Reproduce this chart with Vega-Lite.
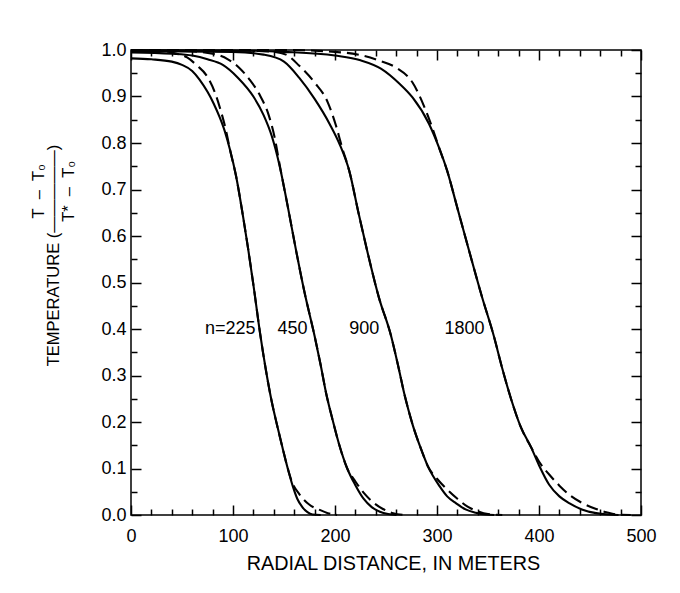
{
  "$schema": "https://vega.github.io/schema/vega-lite/v6.json",
  "width": 510,
  "height": 465,
  "autosize": {"type": "none"},
  "padding": {"left": 131, "top": 50, "right": 39, "bottom": 78},
  "background": "white",
  "config": {
    "font": "Liberation Sans",
    "view": {"stroke": "black", "strokeWidth": 1.5},
    "axis": {
      "grid": false,
      "domain": false,
      "ticks": true,
      "tickColor": "black",
      "tickWidth": 1.5,
      "tickOpacity": 1,
      "labelColor": "black",
      "titleColor": "black",
      "labelFlush": false,
      "labelOverlap": false
    }
  },
  "datasets": {
    "curves": [
      {"n": "225", "style": "solid", "x": 0, "y": 0.982},
      {"n": "225", "style": "solid", "x": 20, "y": 0.98},
      {"n": "225", "style": "solid", "x": 40, "y": 0.975},
      {"n": "225", "style": "solid", "x": 50, "y": 0.968},
      {"n": "225", "style": "solid", "x": 60, "y": 0.955},
      {"n": "225", "style": "solid", "x": 67, "y": 0.937},
      {"n": "225", "style": "solid", "x": 75, "y": 0.91},
      {"n": "225", "style": "solid", "x": 81, "y": 0.885},
      {"n": "225", "style": "solid", "x": 87, "y": 0.855},
      {"n": "225", "style": "solid", "x": 92, "y": 0.825},
      {"n": "225", "style": "solid", "x": 97, "y": 0.786},
      {"n": "225", "style": "solid", "x": 103, "y": 0.729},
      {"n": "225", "style": "solid", "x": 110, "y": 0.64},
      {"n": "225", "style": "solid", "x": 115, "y": 0.57},
      {"n": "225", "style": "solid", "x": 120, "y": 0.495},
      {"n": "225", "style": "solid", "x": 126.6, "y": 0.39},
      {"n": "225", "style": "solid", "x": 132, "y": 0.315},
      {"n": "225", "style": "solid", "x": 137.4, "y": 0.25},
      {"n": "225", "style": "solid", "x": 143, "y": 0.195},
      {"n": "225", "style": "solid", "x": 148.5, "y": 0.145},
      {"n": "225", "style": "solid", "x": 153.7, "y": 0.1},
      {"n": "225", "style": "solid", "x": 158.6, "y": 0.062},
      {"n": "225", "style": "solid", "x": 163, "y": 0.035},
      {"n": "225", "style": "solid", "x": 168, "y": 0.017},
      {"n": "225", "style": "solid", "x": 173, "y": 0.006},
      {"n": "225", "style": "solid", "x": 178, "y": 0.001},
      {"n": "225", "style": "solid", "x": 186, "y": 0.0},

      {"n": "225", "style": "dashed", "x": 0, "y": 1.0},
      {"n": "225", "style": "dashed", "x": 30, "y": 0.998},
      {"n": "225", "style": "dashed", "x": 45, "y": 0.992},
      {"n": "225", "style": "dashed", "x": 55, "y": 0.984},
      {"n": "225", "style": "dashed", "x": 64, "y": 0.968},
      {"n": "225", "style": "dashed", "x": 75, "y": 0.942},
      {"n": "225", "style": "dashed", "x": 82, "y": 0.91},
      {"n": "225", "style": "dashed", "x": 87, "y": 0.877},
      {"n": "225", "style": "dashed", "x": 93, "y": 0.828},
      {"n": "225", "style": "dashed", "x": 97, "y": 0.786},
      {"n": "225", "style": "dashed", "x": 103, "y": 0.729},
      {"n": "225", "style": "dashed", "x": 110, "y": 0.64},
      {"n": "225", "style": "dashed", "x": 115, "y": 0.57},
      {"n": "225", "style": "dashed", "x": 120, "y": 0.495},
      {"n": "225", "style": "dashed", "x": 126.6, "y": 0.39},
      {"n": "225", "style": "dashed", "x": 132, "y": 0.315},
      {"n": "225", "style": "dashed", "x": 137.4, "y": 0.25},
      {"n": "225", "style": "dashed", "x": 143, "y": 0.195},
      {"n": "225", "style": "dashed", "x": 148.5, "y": 0.145},
      {"n": "225", "style": "dashed", "x": 153.7, "y": 0.1},
      {"n": "225", "style": "dashed", "x": 158, "y": 0.07},
      {"n": "225", "style": "dashed", "x": 165, "y": 0.045},
      {"n": "225", "style": "dashed", "x": 175, "y": 0.022},
      {"n": "225", "style": "dashed", "x": 185, "y": 0.011},
      {"n": "225", "style": "dashed", "x": 193, "y": 0.004},
      {"n": "225", "style": "dashed", "x": 202, "y": 0.0},

      {"n": "450", "style": "solid", "x": 0, "y": 0.995},
      {"n": "450", "style": "solid", "x": 40, "y": 0.992},
      {"n": "450", "style": "solid", "x": 60, "y": 0.988},
      {"n": "450", "style": "solid", "x": 75, "y": 0.98},
      {"n": "450", "style": "solid", "x": 90, "y": 0.968},
      {"n": "450", "style": "solid", "x": 105, "y": 0.94},
      {"n": "450", "style": "solid", "x": 120, "y": 0.9},
      {"n": "450", "style": "solid", "x": 130, "y": 0.86},
      {"n": "450", "style": "solid", "x": 138, "y": 0.815},
      {"n": "450", "style": "solid", "x": 146, "y": 0.748},
      {"n": "450", "style": "solid", "x": 154, "y": 0.66},
      {"n": "450", "style": "solid", "x": 162, "y": 0.567},
      {"n": "450", "style": "solid", "x": 170, "y": 0.48},
      {"n": "450", "style": "solid", "x": 180, "y": 0.385},
      {"n": "450", "style": "solid", "x": 186, "y": 0.322},
      {"n": "450", "style": "solid", "x": 191.3, "y": 0.262},
      {"n": "450", "style": "solid", "x": 197.6, "y": 0.205},
      {"n": "450", "style": "solid", "x": 204, "y": 0.152},
      {"n": "450", "style": "solid", "x": 212, "y": 0.1},
      {"n": "450", "style": "solid", "x": 220, "y": 0.064},
      {"n": "450", "style": "solid", "x": 228, "y": 0.035},
      {"n": "450", "style": "solid", "x": 236, "y": 0.017},
      {"n": "450", "style": "solid", "x": 244, "y": 0.007},
      {"n": "450", "style": "solid", "x": 252, "y": 0.002},
      {"n": "450", "style": "solid", "x": 260, "y": 0.0},

      {"n": "450", "style": "dashed", "x": 0, "y": 1.0},
      {"n": "450", "style": "dashed", "x": 50, "y": 0.998},
      {"n": "450", "style": "dashed", "x": 80, "y": 0.992},
      {"n": "450", "style": "dashed", "x": 95, "y": 0.98},
      {"n": "450", "style": "dashed", "x": 106, "y": 0.962},
      {"n": "450", "style": "dashed", "x": 116, "y": 0.937},
      {"n": "450", "style": "dashed", "x": 127, "y": 0.9},
      {"n": "450", "style": "dashed", "x": 135, "y": 0.86},
      {"n": "450", "style": "dashed", "x": 141, "y": 0.81},
      {"n": "450", "style": "dashed", "x": 146, "y": 0.75},
      {"n": "450", "style": "dashed", "x": 154, "y": 0.66},
      {"n": "450", "style": "dashed", "x": 162, "y": 0.567},
      {"n": "450", "style": "dashed", "x": 170, "y": 0.48},
      {"n": "450", "style": "dashed", "x": 180, "y": 0.385},
      {"n": "450", "style": "dashed", "x": 186, "y": 0.322},
      {"n": "450", "style": "dashed", "x": 191.3, "y": 0.262},
      {"n": "450", "style": "dashed", "x": 197.6, "y": 0.205},
      {"n": "450", "style": "dashed", "x": 204, "y": 0.152},
      {"n": "450", "style": "dashed", "x": 212, "y": 0.1},
      {"n": "450", "style": "dashed", "x": 220, "y": 0.072},
      {"n": "450", "style": "dashed", "x": 228, "y": 0.048},
      {"n": "450", "style": "dashed", "x": 237, "y": 0.028},
      {"n": "450", "style": "dashed", "x": 247, "y": 0.013},
      {"n": "450", "style": "dashed", "x": 257, "y": 0.004},
      {"n": "450", "style": "dashed", "x": 268, "y": 0.0},

      {"n": "900", "style": "solid", "x": 0, "y": 0.998},
      {"n": "900", "style": "solid", "x": 100, "y": 0.996},
      {"n": "900", "style": "solid", "x": 130, "y": 0.99},
      {"n": "900", "style": "solid", "x": 150, "y": 0.975},
      {"n": "900", "style": "solid", "x": 165, "y": 0.94},
      {"n": "900", "style": "solid", "x": 180, "y": 0.895},
      {"n": "900", "style": "solid", "x": 195, "y": 0.84},
      {"n": "900", "style": "solid", "x": 205, "y": 0.795},
      {"n": "900", "style": "solid", "x": 214, "y": 0.74},
      {"n": "900", "style": "solid", "x": 223, "y": 0.65},
      {"n": "900", "style": "solid", "x": 232, "y": 0.564},
      {"n": "900", "style": "solid", "x": 243, "y": 0.468},
      {"n": "900", "style": "solid", "x": 255, "y": 0.385},
      {"n": "900", "style": "solid", "x": 262, "y": 0.32},
      {"n": "900", "style": "solid", "x": 268, "y": 0.26},
      {"n": "900", "style": "solid", "x": 276, "y": 0.195},
      {"n": "900", "style": "solid", "x": 284.5, "y": 0.141},
      {"n": "900", "style": "solid", "x": 291, "y": 0.105},
      {"n": "900", "style": "solid", "x": 302.5, "y": 0.062},
      {"n": "900", "style": "solid", "x": 310, "y": 0.04},
      {"n": "900", "style": "solid", "x": 318.8, "y": 0.025},
      {"n": "900", "style": "solid", "x": 328, "y": 0.012},
      {"n": "900", "style": "solid", "x": 338, "y": 0.005},
      {"n": "900", "style": "solid", "x": 348, "y": 0.001},
      {"n": "900", "style": "solid", "x": 356, "y": 0.0},

      {"n": "900", "style": "dashed", "x": 0, "y": 1.0},
      {"n": "900", "style": "dashed", "x": 100, "y": 0.999},
      {"n": "900", "style": "dashed", "x": 140, "y": 0.996},
      {"n": "900", "style": "dashed", "x": 152, "y": 0.99},
      {"n": "900", "style": "dashed", "x": 165, "y": 0.966},
      {"n": "900", "style": "dashed", "x": 180, "y": 0.93},
      {"n": "900", "style": "dashed", "x": 193, "y": 0.887},
      {"n": "900", "style": "dashed", "x": 201, "y": 0.837},
      {"n": "900", "style": "dashed", "x": 207, "y": 0.79},
      {"n": "900", "style": "dashed", "x": 214, "y": 0.74},
      {"n": "900", "style": "dashed", "x": 223, "y": 0.65},
      {"n": "900", "style": "dashed", "x": 232, "y": 0.564},
      {"n": "900", "style": "dashed", "x": 243, "y": 0.468},
      {"n": "900", "style": "dashed", "x": 255, "y": 0.385},
      {"n": "900", "style": "dashed", "x": 262, "y": 0.32},
      {"n": "900", "style": "dashed", "x": 268, "y": 0.26},
      {"n": "900", "style": "dashed", "x": 276, "y": 0.195},
      {"n": "900", "style": "dashed", "x": 284.5, "y": 0.141},
      {"n": "900", "style": "dashed", "x": 291, "y": 0.105},
      {"n": "900", "style": "dashed", "x": 300, "y": 0.078},
      {"n": "900", "style": "dashed", "x": 310, "y": 0.055},
      {"n": "900", "style": "dashed", "x": 320, "y": 0.035},
      {"n": "900", "style": "dashed", "x": 330, "y": 0.018},
      {"n": "900", "style": "dashed", "x": 340, "y": 0.008},
      {"n": "900", "style": "dashed", "x": 350, "y": 0.002},
      {"n": "900", "style": "dashed", "x": 364, "y": 0.0},

      {"n": "1800", "style": "solid", "x": 0, "y": 1.0},
      {"n": "1800", "style": "solid", "x": 100, "y": 0.999},
      {"n": "1800", "style": "solid", "x": 150, "y": 0.996},
      {"n": "1800", "style": "solid", "x": 200, "y": 0.988},
      {"n": "1800", "style": "solid", "x": 225, "y": 0.978},
      {"n": "1800", "style": "solid", "x": 245, "y": 0.96},
      {"n": "1800", "style": "solid", "x": 263, "y": 0.928},
      {"n": "1800", "style": "solid", "x": 276, "y": 0.898},
      {"n": "1800", "style": "solid", "x": 292, "y": 0.842},
      {"n": "1800", "style": "solid", "x": 302, "y": 0.79},
      {"n": "1800", "style": "solid", "x": 310, "y": 0.74},
      {"n": "1800", "style": "solid", "x": 320, "y": 0.66},
      {"n": "1800", "style": "solid", "x": 332, "y": 0.564},
      {"n": "1800", "style": "solid", "x": 344, "y": 0.47},
      {"n": "1800", "style": "solid", "x": 355.7, "y": 0.385},
      {"n": "1800", "style": "solid", "x": 364, "y": 0.315},
      {"n": "1800", "style": "solid", "x": 372.7, "y": 0.249},
      {"n": "1800", "style": "solid", "x": 382, "y": 0.19},
      {"n": "1800", "style": "solid", "x": 392.4, "y": 0.145},
      {"n": "1800", "style": "solid", "x": 400, "y": 0.107},
      {"n": "1800", "style": "solid", "x": 410, "y": 0.065},
      {"n": "1800", "style": "solid", "x": 420, "y": 0.04},
      {"n": "1800", "style": "solid", "x": 430, "y": 0.025},
      {"n": "1800", "style": "solid", "x": 442, "y": 0.012},
      {"n": "1800", "style": "solid", "x": 456, "y": 0.004},
      {"n": "1800", "style": "solid", "x": 468, "y": 0.001},
      {"n": "1800", "style": "solid", "x": 478, "y": 0.0},

      {"n": "1800", "style": "dashed", "x": 0, "y": 1.0},
      {"n": "1800", "style": "dashed", "x": 150, "y": 1.0},
      {"n": "1800", "style": "dashed", "x": 211, "y": 0.994},
      {"n": "1800", "style": "dashed", "x": 243.6, "y": 0.977},
      {"n": "1800", "style": "dashed", "x": 260, "y": 0.962},
      {"n": "1800", "style": "dashed", "x": 276, "y": 0.93},
      {"n": "1800", "style": "dashed", "x": 289, "y": 0.87},
      {"n": "1800", "style": "dashed", "x": 295, "y": 0.835},
      {"n": "1800", "style": "dashed", "x": 302, "y": 0.79},
      {"n": "1800", "style": "dashed", "x": 310, "y": 0.74},
      {"n": "1800", "style": "dashed", "x": 320, "y": 0.66},
      {"n": "1800", "style": "dashed", "x": 332, "y": 0.564},
      {"n": "1800", "style": "dashed", "x": 344, "y": 0.47},
      {"n": "1800", "style": "dashed", "x": 355.7, "y": 0.385},
      {"n": "1800", "style": "dashed", "x": 364, "y": 0.315},
      {"n": "1800", "style": "dashed", "x": 372.7, "y": 0.249},
      {"n": "1800", "style": "dashed", "x": 382, "y": 0.19},
      {"n": "1800", "style": "dashed", "x": 392.4, "y": 0.145},
      {"n": "1800", "style": "dashed", "x": 400, "y": 0.115},
      {"n": "1800", "style": "dashed", "x": 410, "y": 0.087},
      {"n": "1800", "style": "dashed", "x": 420, "y": 0.063},
      {"n": "1800", "style": "dashed", "x": 430, "y": 0.043},
      {"n": "1800", "style": "dashed", "x": 443, "y": 0.025},
      {"n": "1800", "style": "dashed", "x": 456, "y": 0.013},
      {"n": "1800", "style": "dashed", "x": 466, "y": 0.006},
      {"n": "1800", "style": "dashed", "x": 476, "y": 0.001},
      {"n": "1800", "style": "dashed", "x": 490, "y": 0.0}
    ],
    "labels": [
      {"text": "n=225", "x": 122, "y": 0.4, "grp": "a"},
      {"text": "450", "x": 173, "y": 0.4, "grp": "a"},
      {"text": "900", "x": 243.5, "y": 0.4, "grp": "b"},
      {"text": "1800", "x": 346.5, "y": 0.4, "grp": "b"}
    ]
  },
  "layer": [
    {
      "data": {"name": "curves"},
      "transform": [{"filter": "datum.style == 'solid'"}],
      "mark": {"type": "line", "color": "black", "strokeWidth": 2.1, "interpolate": "monotone"},
      "encoding": {
        "x": {
          "field": "x", "type": "quantitative",
          "scale": {"domain": [0, 500], "nice": false, "zero": false},
          "axis": {
            "orient": "bottom",
            "offset": -10,
            "values": [0, 100, 200, 300, 400, 500],
            "tickSize": 10,
            "labelPadding": 12,
            "labelFontSize": 18,
            "labelBaseline": "top",
            "title": "RADIAL DISTANCE, IN METERS",
            "titleFontSize": 19.8,
            "titleFontWeight": "normal",
            "titleBaseline": "middle",
            "titleX": 262,
            "titleY": 58
          }
        },
        "y": {
          "field": "y", "type": "quantitative",
          "scale": {"domain": [0, 1], "nice": false, "zero": false},
          "axis": {
            "orient": "left",
            "offset": -10,
            "values": [0, 0.1, 0.2, 0.3, 0.4, 0.5, 0.6, 0.7, 0.8, 0.9, 1.0],
            "format": ".1f",
            "tickSize": 10,
            "labelPadding": 5,
            "labelFontSize": 18,
            "title": [
              "\u200b\u00a0\u00a0\u00a0\u00a0\u00a0\u00a0\u00a0\u00a0\u00a0\u00a0\u00a0\u00a0\u00a0\u00a0\u00a0\u00a0\u00a0\u00a0\u00a0\u00a0\u00a0\u00a0\u00a0\u00a0\u00a0\u00a0\u00a0\u00a0T\u00a0\u00a0–\u00a0\u00a0T₀",
              "TEMPERATURE (—————)",
              "\u200b\u00a0\u00a0\u00a0\u00a0\u00a0\u00a0\u00a0\u00a0\u00a0\u00a0\u00a0\u00a0\u00a0\u00a0\u00a0\u00a0\u00a0\u00a0\u00a0\u00a0\u00a0\u00a0\u00a0\u00a0\u00a0\u00a0\u00a0\u00a0T*\u00a0\u00a0–\u00a0\u00a0T₀"
            ],
            "titleFontSize": 16.5,
            "titleFontWeight": "normal",
            "titleLineHeight": 15,
            "titleAngle": -90,
            "titleAlign": "center",
            "titleBaseline": "middle",
            "titleX": -103,
            "titleY": 205
          }
        },
        "detail": {"field": "n"}
      }
    },
    {
      "data": {"name": "curves"},
      "transform": [{"filter": "datum.style == 'dashed'"}],
      "mark": {"type": "line", "color": "black", "strokeWidth": 2.1, "strokeDash": [12, 6], "interpolate": "monotone"},
      "encoding": {
        "x": {
          "field": "x", "type": "quantitative",
          "scale": {"domain": [0, 500], "nice": false, "zero": false},
          "axis": {
            "orient": "bottom",
            "offset": -6,
            "values": [20, 40, 60, 80, 120, 140, 160, 180, 220, 240, 260, 280, 320, 340, 360, 380, 420, 440, 460, 480],
            "tickSize": 6,
            "labels": false,
            "title": null
          }
        },
        "y": {
          "field": "y", "type": "quantitative",
          "scale": {"domain": [0, 1], "nice": false, "zero": false},
          "axis": {
            "orient": "left",
            "offset": -6,
            "values": [0.05, 0.15, 0.25, 0.35, 0.45, 0.55, 0.65, 0.75, 0.85, 0.95],
            "tickSize": 6,
            "labels": false,
            "title": null
          }
        },
        "detail": {"field": "n"}
      }
    },
    {
      "data": {"name": "labels"},
      "transform": [{"filter": "datum.grp == 'a'"}],
      "mark": {"type": "text", "align": "right", "baseline": "middle", "fontSize": 18, "color": "black"},
      "encoding": {
        "x": {
          "field": "x", "type": "quantitative",
          "scale": {"domain": [0, 500], "nice": false, "zero": false},
          "axis": {
            "orient": "top",
            "offset": -10,
            "values": [0, 100, 200, 300, 400, 500],
            "tickSize": 10,
            "labels": false,
            "title": null
          }
        },
        "y": {
          "field": "y", "type": "quantitative",
          "scale": {"domain": [0, 1], "nice": false, "zero": false},
          "axis": {
            "orient": "right",
            "offset": -10,
            "values": [0, 0.1, 0.2, 0.3, 0.4, 0.5, 0.6, 0.7, 0.8, 0.9, 1.0],
            "tickSize": 10,
            "labels": false,
            "title": null
          }
        },
        "text": {"field": "text"}
      }
    },
    {
      "data": {"name": "labels"},
      "transform": [{"filter": "datum.grp == 'b'"}],
      "mark": {"type": "text", "align": "right", "baseline": "middle", "fontSize": 18, "color": "black"},
      "encoding": {
        "x": {
          "field": "x", "type": "quantitative",
          "scale": {"domain": [0, 500], "nice": false, "zero": false},
          "axis": {
            "orient": "top",
            "offset": -6,
            "values": [20, 40, 60, 80, 120, 140, 160, 180, 220, 240, 260, 280, 320, 340, 360, 380, 420, 440, 460, 480],
            "tickSize": 6,
            "labels": false,
            "title": null
          }
        },
        "y": {
          "field": "y", "type": "quantitative",
          "scale": {"domain": [0, 1], "nice": false, "zero": false},
          "axis": {
            "orient": "right",
            "offset": -6,
            "values": [0.05, 0.15, 0.25, 0.35, 0.45, 0.55, 0.65, 0.75, 0.85, 0.95],
            "tickSize": 6,
            "labels": false,
            "title": null
          }
        },
        "text": {"field": "text"}
      }
    }
  ],
  "resolve": {"axis": {"x": "independent", "y": "independent"}}
}
